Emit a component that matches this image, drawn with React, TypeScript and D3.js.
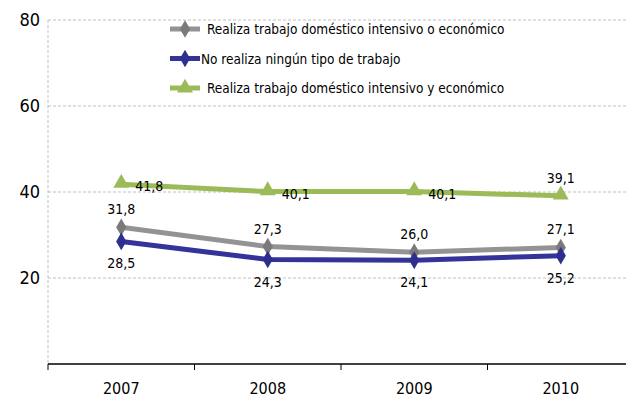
import React from "react";
import * as d3 from "d3";

const years = ["2007", "2008", "2009", "2010"];
const seriesNames = [
  "Realiza trabajo  doméstico intensivo o económico",
  "No realiza ningún tipo de trabajo",
  "Realiza trabajo doméstico intensivo y económico",
];
const intensivoOEconomico = [31.8, 27.3, 26.0, 27.1];
const ningunTrabajo = [28.5, 24.3, 24.1, 25.2];
const intensivoYEconomico = [41.8, 40.1, 40.1, 39.1];
const yTicks = [20, 40, 60, 80];

const W = 626;
const H = 401;
const margin = { top: 20, left: 48, bottom: 37 };
const plotRight = 634;
const font = "'Liberation Sans Narrow', 'DejaVu Sans Condensed', 'Liberation Sans', sans-serif";

type Series = {
  name: string;
  values: number[];
  color: string;
  marker: string;
  shape: "diamond" | "triangle";
  place: string[];
};

const series: Series[] = [
  { name: seriesNames[0], values: intensivoOEconomico, color: "#939393", marker: "#7a7a7a", shape: "diamond", place: ["above", "above", "above", "above"] },
  { name: seriesNames[1], values: ningunTrabajo, color: "#333399", marker: "#2e2e8f", shape: "diamond", place: ["below", "below", "below", "below"] },
  { name: seriesNames[2], values: intensivoYEconomico, color: "#9bbb59", marker: "#9bbb59", shape: "triangle", place: ["right", "right", "right", "above"] },
];

export default function App() {
  const x = d3.scaleBand<string>().domain(years).range([margin.left, plotRight]);
  const y = d3.scaleLinear().domain([0, 80]).range([H - margin.bottom, margin.top]);
  const cx = (yr: string) => (x(yr) ?? 0) + x.bandwidth() / 2;
  const line = d3.line<number>().x((_, i) => cx(years[i])).y((d) => y(d));
  const diamond = d3.symbol(d3.symbolDiamond, 90)();
  const triangle = d3.symbol(d3.symbolTriangle, 110)();
  const fmt = (v: number) => v.toFixed(1).replace(".", ",");

  const labelPos = (p: string, px: number, py: number) => {
    if (p === "above") return { x: px, y: py - 13, anchor: "middle" };
    if (p === "below") return { x: px, y: py + 27, anchor: "middle" };
    return { x: px + 14, y: py + 7, anchor: "start" };
  };

  return (
    <svg width={W} height={H} style={{ position: "absolute", left: 0, top: 0, background: "#fff" }} fontFamily={font}>
      {yTicks.map((t) => (
        <g key={t}>
          <line x1={margin.left} x2={W} y1={y(t)} y2={y(t)} stroke="#bfbfbf" strokeDasharray="3,2" />
          <text x={40} y={y(t) + 6} textAnchor="end" fontSize={18} fill="#000">{t}</text>
        </g>
      ))}
      <line x1={margin.left} x2={margin.left} y1={y(80)} y2={y(0)} stroke="#bfbfbf" strokeDasharray="3,2" />
      <line x1={margin.left} x2={W} y1={y(0)} y2={y(0)} stroke="#000" strokeWidth={1.5} />
      {years.map((yr) => (
        <g key={yr}>
          <line x1={x(yr)} x2={x(yr)} y1={y(0)} y2={y(0) + 6} stroke="#000" />
          <text x={cx(yr)} y={y(0) + 30} textAnchor="middle" fontSize={16}>{yr}</text>
        </g>
      ))}
      {series.map((s) => (
        <g key={s.name}>
          <path d={line(s.values) ?? ""} fill="none" stroke={s.color} strokeWidth={5} strokeLinejoin="round" />
          {s.values.map((v, i) => (
            <path key={i} d={s.shape === "diamond" ? diamond ?? "" : triangle ?? ""} transform={`translate(${cx(years[i])},${y(v) - (s.shape === "triangle" ? 1 : 0)})`} fill={s.marker} />
          ))}
          {s.values.map((v, i) => {
            const lp = labelPos(s.place[i], cx(years[i]), y(v));
            return (
              <text key={"l" + i} x={lp.x} y={lp.y} textAnchor={lp.anchor} fontSize={14} fill="#000">{fmt(v)}</text>
            );
          })}
        </g>
      ))}
      {series.map((s, i) => {
        const ly = 29 + i * 29.5;
        return (
          <g key={"leg" + i}>
            <line x1={170} x2={200} y1={ly} y2={ly} stroke={s.color} strokeWidth={5} />
            <path d={s.shape === "diamond" ? diamond ?? "" : triangle ?? ""} transform={`translate(185,${ly})`} fill={s.marker} />
            <text x={i === 1 ? 201 : 207} y={ly + 5} fontSize={13.5}>{s.name}</text>
          </g>
        );
      })}
    </svg>
  );
}
